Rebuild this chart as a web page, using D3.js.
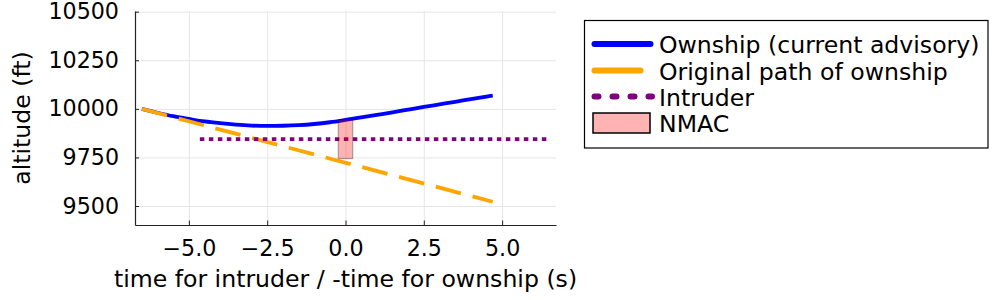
<!DOCTYPE html>
<html>
<head>
<meta charset="utf-8">
<script src="https://cdn.jsdelivr.net/npm/d3@7"></script>
<style>
  body { margin: 0; background: #fff; }
  svg { display: block; font-family: "DejaVu Sans", sans-serif; }
</style>
</head>
<body>
<script>
// ownship under the current advisory
const OWN_T = [-6.5, -6.0, -5.5, -5.0, -4.5, -4.0, -3.5, -3.0, -2.5, -2.0, -1.5, -1.0, -0.5, 0.0, 0.5, 1.0, 1.5, 2.0, 2.5, 3.0, 3.5, 4.0, 4.5, 4.7];
const OWN_ALT = [10000, 9980, 9962, 9948, 9935, 9926, 9919, 9914, 9912, 9913, 9916, 9922, 9931, 9943, 9956, 9969, 9982, 9996, 10010, 10023, 10036, 10050, 10063, 10068];

const ORIG_T = [-6.5, 4.7];
const ORIG_ALT = [10000, 9522];

const INTR_T = [-4.65, 6.45];
const INTR_ALT = [9844, 9844];

const NMAC_T = [-0.23, 0.23];
const NMAC_ALT = [9744, 9944];

const X_TICKS = [-5, -2.5, 0, 2.5, 5];
const Y_TICKS = [9500, 9750, 10000, 10250, 10500];

const LEGEND_LABELS = ["Ownship (current advisory)", "Original path of ownship", "Intruder", "NMAC"];

const width = 1000,
  height = 300,
  plot = { left: 135, right: 556, top: 11.1, bottom: 225 };

const svg = d3
  .select("body")
  .append("svg")
  .attr("width", width)
  .attr("height", height);

const xScale = d3
  .scaleLinear()
  .domain([-6.72, 6.72])
  .range([plot.left, plot.right]);

const yScale = d3
  .scaleLinear()
  .domain([10500, 9500])
  .range([11.7, 206]);

yScale.domain([yScale.invert(plot.top), yScale.invert(plot.bottom)]).range([plot.top, plot.bottom]);

// grid
svg
  .append("g")
  .attr("class", "grid")
  .attr("transform", `translate(0, ${plot.bottom})`)
  .call(d3.axisBottom(xScale).tickValues(X_TICKS).tickSize(-(plot.bottom - plot.top)).tickFormat(""))
  .call(g => g.select(".domain").remove());

svg
  .append("g")
  .attr("class", "grid")
  .attr("transform", `translate(${plot.left}, 0)`)
  .call(d3.axisLeft(yScale).tickValues(Y_TICKS).tickSize(-(plot.right - plot.left)).tickFormat(""))
  .call(g => g.select(".domain").remove());

svg.selectAll(".grid line").attr("stroke", "#e6e6e6").attr("stroke-width", 1);

const line = d3
  .line()
  .x(d => xScale(d[0]))
  .y(d => yScale(d[1]));

svg
  .append("path")
  .datum(OWN_T.map((t, i) => [t, OWN_ALT[i]]))
  .attr("d", line.curve(d3.curveMonotoneX))
  .attr("fill", "none")
  .attr("stroke", "#0000ff")
  .attr("stroke-width", 3.8);

svg
  .append("path")
  .datum(ORIG_T.map((t, i) => [t, ORIG_ALT[i]]))
  .attr("d", line.curve(d3.curveLinear))
  .attr("fill", "none")
  .attr("stroke", "#ffa500")
  .attr("stroke-width", 3.8)
  .attr("stroke-dasharray", "26,12");

svg
  .append("path")
  .datum(INTR_T.map((t, i) => [t, INTR_ALT[i]]))
  .attr("d", line)
  .attr("fill", "none")
  .attr("stroke", "#800080")
  .attr("stroke-width", 3.7)
  .attr("stroke-dasharray", "4.5,4.5");

svg
  .append("rect")
  .attr("x", xScale(NMAC_T[0]))
  .attr("y", yScale(NMAC_ALT[1]))
  .attr("width", xScale(NMAC_T[1]) - xScale(NMAC_T[0]))
  .attr("height", yScale(NMAC_ALT[0]) - yScale(NMAC_ALT[1]))
  .attr("fill", "#ff0000")
  .attr("fill-opacity", 0.3)
  .attr("stroke", "#000")
  .attr("stroke-opacity", 0.3)
  .attr("stroke-width", 1.2);

// axes
const xAxis = svg
  .append("g")
  .attr("transform", `translate(0, ${plot.bottom})`)
  .call(
    d3.axisBottom(xScale)
      .tickValues(X_TICKS)
      .tickSizeInner(-4.5)
      .tickSizeOuter(0)
      .tickPadding(15)
      .tickFormat(d3.format(".1f"))
  );

const yAxis = svg
  .append("g")
  .attr("transform", `translate(${plot.left}, 0)`)
  .call(
    d3.axisLeft(yScale)
      .tickValues(Y_TICKS)
      .tickSizeInner(-4)
      .tickSizeOuter(0)
      .tickPadding(16)
      .tickFormat(d3.format("d"))
  );

[xAxis, yAxis].forEach(g => {
  g.select(".domain").attr("stroke", "#222").attr("stroke-width", 1.2);
  g.selectAll(".tick line").attr("stroke", "#222").attr("stroke-width", 1);
  g.selectAll("text")
    .attr("font-family", "DejaVu Sans")
    .attr("font-size", 22.2)
    .attr("fill", "#000");
});

svg
  .append("text")
  .attr("x", (plot.left + plot.right) / 2)
  .attr("y", 287)
  .attr("text-anchor", "middle")
  .attr("font-size", 23.6)
  .text("time for intruder / -time for ownship (s)");

svg
  .append("text")
  .attr("transform", `translate(29.5, ${(plot.top + plot.bottom) / 2}) rotate(-90)`)
  .attr("text-anchor", "middle")
  .attr("font-size", 23.6)
  .text("altitude (ft)");

// legend
const legend = svg.append("g");

legend
  .append("rect")
  .attr("x", 584.5)
  .attr("y", 20.5)
  .attr("width", 403.5)
  .attr("height", 127.5)
  .attr("fill", "#fff")
  .attr("stroke", "#000")
  .attr("stroke-width", 1.2);

const rowY = [44, 70.5, 96.5, 122.5];

legend
  .append("line")
  .attr("x1", 594.5).attr("x2", 650.5)
  .attr("y1", rowY[0]).attr("y2", rowY[0])
  .attr("stroke", "#0000ff")
  .attr("stroke-width", 6)
  .attr("stroke-linecap", "round");

legend
  .append("line")
  .attr("x1", 594.5).attr("x2", 640.5)
  .attr("y1", rowY[1]).attr("y2", rowY[1])
  .attr("stroke", "#ffa500")
  .attr("stroke-width", 6)
  .attr("stroke-linecap", "round");

legend
  .append("line")
  .attr("x1", 594.5).attr("x2", 652)
  .attr("y1", rowY[2]).attr("y2", rowY[2])
  .attr("stroke", "#800080")
  .attr("stroke-width", 6)
  .attr("stroke-linecap", "round")
  .attr("stroke-dasharray", "4,14");

legend
  .append("rect")
  .attr("x", 593)
  .attr("y", 113)
  .attr("width", 57)
  .attr("height", 20)
  .attr("fill", "#ffb3b3")
  .attr("stroke", "#000")
  .attr("stroke-width", 1.5);

legend
  .selectAll("text.label")
  .data(LEGEND_LABELS)
  .enter()
  .append("text")
  .attr("class", "label")
  .attr("x", 659)
  .attr("y", (d, i) => rowY[i] + 9)
  .attr("font-size", 23.6)
  .text(d => d);
</script>
</body>
</html>
